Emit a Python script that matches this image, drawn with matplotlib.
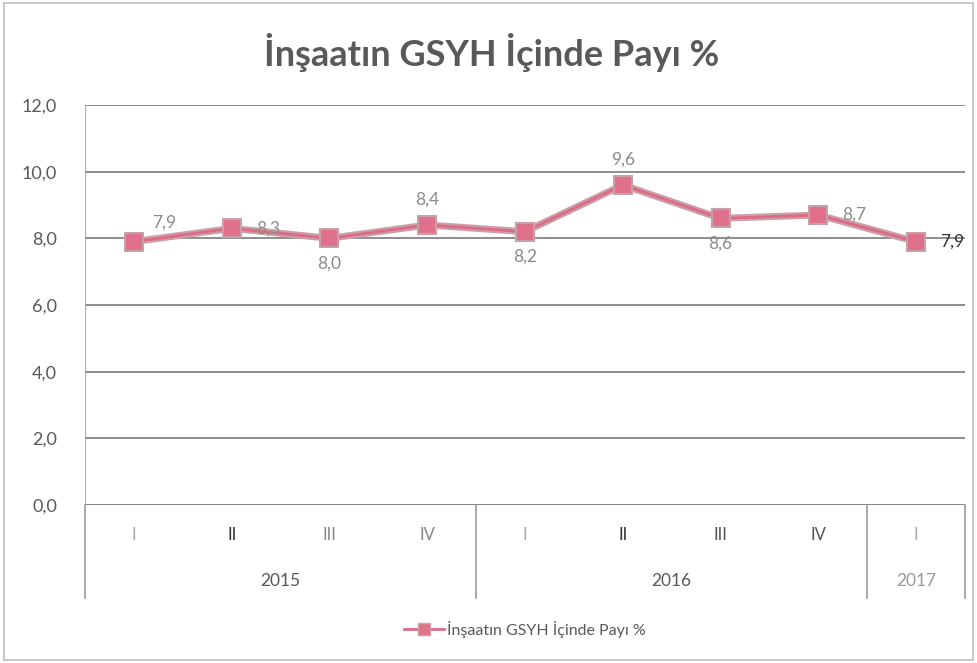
import matplotlib
matplotlib.use("Agg")
import matplotlib.pyplot as plt
import matplotlib.transforms as mtransforms
from matplotlib.lines import Line2D
from matplotlib.patches import Rectangle
import numpy as np

plt.rcParams['font.family'] = ['Lato', 'DejaVu Sans']

quarters = ["I", "II", "III", "IV", "I", "II", "III", "IV", "I"]
years = ["2015", "2016", "2017"]
year_counts = [4, 4, 1]
values = [7.9, 8.3, 8.0, 8.4, 8.2, 9.6, 8.6, 8.7, 7.9]
label_pos = ["ur", "r", "b", "t", "b", "t", "b", "r", "r"]
series_name = "İnşaatın GSYH İçinde Payı %"
title = "İnşaatın GSYH İçinde Payı %"

fig = plt.figure(figsize=(9.77, 6.63), dpi=100)
ax = fig.add_axes([85/977, 1-505/663, 880/977, 400/663])

x = np.arange(len(values))
line_col = "#de6a86"
ax.plot(x, values, color="#c9a0a8", lw=5, solid_capstyle="round", zorder=2)
ax.plot(x, values, color=line_col, lw=2, zorder=3,
        marker="s", markersize=13, markerfacecolor="#e0708c",
        markeredgecolor="#c8a0a8", markeredgewidth=1.5)

ax.set_xlim(-0.5, len(values) - 0.5)
ax.set_ylim(0, 12)
yt = np.arange(0, 12.1, 2)
ax.set_yticks(yt)
ax.set_yticklabels([f"{v:.1f}".replace(".", ",") for v in yt], fontsize=13, color="#595959")
ax.tick_params(axis="y", length=0, pad=20)
ax.set_xticks([])
ax.grid(axis="y", color="#858585", lw=1.3)
for s in ["top", "right", "left", "bottom"]:
    ax.spines[s].set_visible(False)
ax.axhline(0, color="#858585", lw=1.3)
ax.axvline(-0.5, color="#9a9a9a", lw=1.2)

offsets = {"ur": (22, 14), "r": (26, 0), "b": (0, -18), "t": (0, 18)}
for i, (v, p) in enumerate(zip(values, label_pos)):
    dx, dy = offsets[p]
    col = "#333333" if i == len(values) - 1 else "#8a8a8a"
    ax.annotate(f"{v:.1f}".replace(".", ","), (i, v), xytext=(dx, dy),
                textcoords="offset points", ha="center", va="center",
                fontsize=12.5, color=col)

trans = mtransforms.blended_transform_factory(ax.transData, ax.transAxes)
q_colors = ["#aaaaaa", "#333333", "#888888", "#888888", "#aaaaaa", "#333333", "#555555", "#555555", "#aaaaaa"]
for i, q in enumerate(quarters):
    ax.text(i, -0.075, q, transform=trans, ha="center", va="center",
            fontsize=12, color=q_colors[i])
start = 0
bounds = [-0.5]
for y, c in zip(years, year_counts):
    mid = start + (c - 1) / 2
    ax.text(mid, -0.19, y, transform=trans, ha="center", va="center",
            fontsize=12.5, color="#595959" if c > 1 else "#999999")
    start += c
    bounds.append(start - 0.5)
for b in bounds:
    ax.add_line(Line2D([b, b], [0, -0.233], transform=trans, color="#9a9a9a",
                       lw=1.2, clip_on=False))

fig.text(492/977, 1-52/663, title, ha="center", va="center",
         fontsize=26, fontweight="bold", color="#595959")

# legend
leg = ax.legend([Line2D([0], [0], color=line_col, lw=2, marker="s", markersize=9,
                        markerfacecolor="#e0708c", markeredgecolor="#c8a0a8")],
                [series_name], loc="center", bbox_to_anchor=(0.5, -0.31),
                frameon=False, fontsize=11.5, handlelength=2.5, handletextpad=0.2)
for t in leg.get_texts():
    t.set_color("#595959")

fig.patches.append(Rectangle((0.004, 0.004), 0.992, 0.992, transform=fig.transFigure,
                             fill=False, edgecolor="#bdbdbd", lw=1.2))

fig.savefig("out.png", dpi=100)
